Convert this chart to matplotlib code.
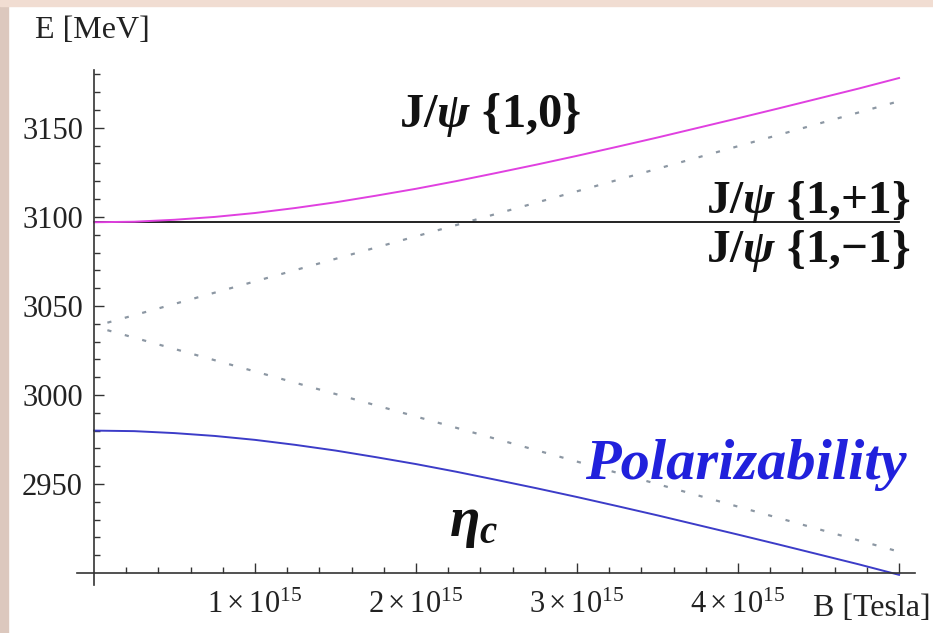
import matplotlib
matplotlib.use("Agg")
import matplotlib.pyplot as plt
from matplotlib.ticker import FixedLocator
from matplotlib.patches import Rectangle

plt.rcParams["font.family"] = ["Liberation Serif", "DejaVu Serif"]
plt.rcParams["mathtext.fontset"] = "custom"
plt.rcParams["mathtext.rm"] = "Liberation Serif"
plt.rcParams["mathtext.it"] = "Liberation Serif:italic:bold"
plt.rcParams["mathtext.bf"] = "Liberation Serif:bold"
plt.rcParams["lines.scale_dashes"] = False

# magnetic field in units of 1e15 Tesla
B = [0, 0.25, 0.5, 0.75, 1.0, 1.25, 1.5, 1.75, 2.0, 2.25, 2.5,
     2.75, 3.0, 3.25, 3.5, 3.75, 4.0, 4.25, 4.5, 4.75, 5.0]
# J/psi longitudinal {1,0} (MeV)
E_psi10 = [3097.0, 3097.3, 3098.4, 3100.0, 3102.2, 3105.0, 3108.2, 3111.9, 3115.8, 3120.1, 3124.7,
           3129.4, 3134.3, 3139.4, 3144.6, 3150.0, 3155.4, 3160.9, 3166.5, 3172.1, 3178.0]
# eta_c (MeV)
E_etac = [2980.0, 2979.7, 2978.6, 2977.0, 2974.8, 2972.0, 2968.8, 2965.1, 2961.2, 2956.9, 2952.3,
          2947.6, 2942.7, 2937.6, 2932.4, 2927.0, 2921.6, 2916.1, 2910.5, 2904.9, 2899.0]
# J/psi transverse {1,+1} / {1,-1}: flat
B_flat = [0, 5.0]
E_psi11 = [3097.0, 3097.0]
# dotted asymptotes
B_asym = [0, 5.0]
E_asym_up = [3038.5, 3165.0]
E_asym_dn = [3038.5, 2912.0]

fig = plt.figure(figsize=(9.33, 6.33), dpi=100)
fig.patches.append(Rectangle((0, 0), 8 / 933, 1, transform=fig.transFigure,
                             color="#dcc8be", zorder=0))
fig.patches.append(Rectangle((0, 1 - 6 / 633), 1, 6 / 633, transform=fig.transFigure,
                             color="#f1ddd2", zorder=0))

ax = fig.add_axes([77 / 933, 1 - 585 / 633, 838 / 933, 515 / 633])
ax.set_xlim(-0.1056, 5.099)
ax.set_ylim(2893.3, 3182.5)

ax.plot(B_asym, E_asym_up, color="#8c97a3", lw=1.6, linestyle=(3, (3, 10)))
ax.plot(B_asym, E_asym_dn, color="#8c97a3", lw=1.6, linestyle=(3, (3, 10)))
ax.plot(B_flat, E_psi11, color="#111111", lw=1.3)
ax.plot(B, E_psi10, color="#e040e0", lw=1.4)
ax.plot(B, E_etac, color="#3c3cc8", lw=1.4)

# axes through the origin
for s in ["top", "right"]:
    ax.spines[s].set_visible(False)
ax.spines["left"].set_position(("data", 0))
ax.spines["bottom"].set_position(("data", 2900))
for s in ["left", "bottom"]:
    ax.spines[s].set_color("#333333")
    ax.spines[s].set_linewidth(1.2)

ax.yaxis.set_major_locator(FixedLocator([2950, 3000, 3050, 3100, 3150]))
ax.yaxis.set_minor_locator(FixedLocator([v for v in range(2910, 3190, 10) if v % 50]))
ax.xaxis.set_major_locator(FixedLocator([1, 2, 3, 4, 5]))
ax.xaxis.set_minor_locator(FixedLocator([x / 5 for x in range(1, 26) if x % 5]))
ax.set_xticklabels([r"$1\times10^{15}$", r"$2\times10^{15}$", r"$3\times10^{15}$",
                    r"$4\times10^{15}$", ""])
ax.tick_params(which="both", direction="in", color="#333333", labelsize=22,
               labelcolor="#222222")
ax.tick_params(axis="y", which="major", length=7, width=1.0, pad=8)
ax.tick_params(axis="y", which="minor", length=4, width=1.0)
ax.tick_params(axis="x", which="major", length=7, width=1.0, pad=13)
ax.tick_params(axis="x", which="minor", length=4, width=1.0)

fig.text(35 / 933, 1 - 38 / 633, "E [MeV]", fontsize=23, color="#222222", va="baseline")
fig.text(813 / 933, 1 - 616 / 633, "B [Tesla]", fontsize=23, color="#222222", va="baseline")

ax.text(2.46, 3150.5, r"$\mathbf{J/}\psi\ \mathbf{\{1{,}0\}}$", fontsize=35,
        ha="center", va="baseline", color="#111111")
ax.text(5.068, 3102.0, r"$\mathbf{J/}\psi\ \mathbf{\{1{,}{+}1\}}$", fontsize=34,
        ha="right", va="baseline", color="#111111")
ax.text(5.068, 3074.5, r"$\mathbf{J/}\psi\ \mathbf{\{1{,}{-}1\}}$", fontsize=34,
        ha="right", va="baseline", color="#111111")
ax.text(2.36, 2927.5, r"$\eta_c$", fontsize=40, ha="center", va="center", color="#111111")
ax.text(3.05, 2952.8, "Polarizability", fontsize=42, fontweight="bold", fontstyle="italic",
        ha="left", va="baseline", color="#2121dc")

fig.savefig("out.png", dpi=100)
